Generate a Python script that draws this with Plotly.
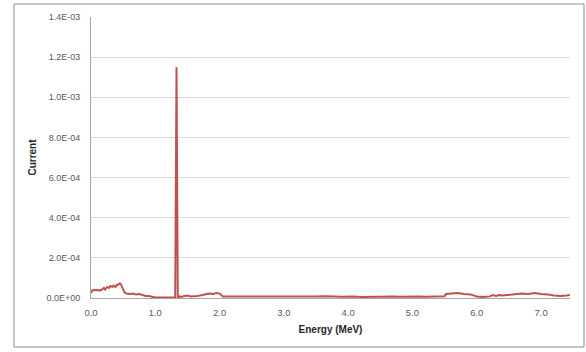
import plotly.graph_objects as go

energy = [0.00, 0.02, 0.05, 0.10, 0.15, 0.18, 0.20, 0.22, 0.25, 0.28, 0.30, 0.33, 0.35, 0.38,
          0.40, 0.43, 0.45, 0.47, 0.50, 0.52, 0.55, 0.60, 0.65, 0.70, 0.75, 0.80, 0.85, 0.90,
          0.95, 1.00, 1.05, 1.10, 1.20, 1.31, 1.33, 1.35, 1.38, 1.40, 1.45, 1.50, 1.55, 1.60,
          1.65, 1.70, 1.75, 1.80, 1.85, 1.90, 1.95, 2.00, 2.05, 2.10, 2.20, 2.30, 2.40, 2.50,
          2.60, 2.70, 2.80, 2.90, 3.00, 3.10, 3.20, 3.30, 3.40, 3.50, 3.60, 3.70, 3.80, 3.90,
          4.00, 4.10, 4.20, 4.30, 4.40, 4.50, 4.60, 4.70, 4.80, 4.90, 5.00, 5.10, 5.20, 5.30,
          5.40, 5.50, 5.52, 5.60, 5.70, 5.80, 5.90, 6.00, 6.10, 6.20, 6.25, 6.30, 6.35, 6.40,
          6.50, 6.60, 6.70, 6.80, 6.90, 7.00, 7.10, 7.20, 7.30, 7.40, 7.45]
current_e5 = [2.5, 3.8, 4.0, 4.0, 3.8, 4.5, 5.0, 4.2, 5.5, 5.0, 6.0, 5.5, 6.2, 5.5,
              6.5, 6.8, 7.3, 6.5, 4.5, 2.8, 2.2, 2.0, 2.2, 1.8, 2.0, 1.5, 1.0, 1.0,
              0.5, 0.3, 0.2, 0.2, 0.2, 0.3, 115.0, 0.3, 0.8, 0.5, 1.0, 1.2, 0.8, 0.8,
              1.0, 1.2, 1.8, 2.0, 2.2, 2.0, 2.5, 2.2, 0.8, 0.8, 0.6, 0.8, 0.6, 0.5,
              0.7, 0.5, 0.6, 0.8, 0.6, 0.7, 0.5, 0.6, 0.8, 0.7, 0.9, 1.0, 0.8, 0.6,
              0.8, 0.7, 0.5, 0.6, 0.7, 0.5, 0.6, 0.8, 0.6, 0.7, 0.9, 0.7, 0.6, 0.8,
              1.0, 0.9, 2.0, 2.2, 2.5, 2.0, 1.8, 0.8, 0.5, 0.8, 1.5, 1.0, 1.5, 1.2,
              1.5, 1.8, 2.2, 2.0, 2.5, 2.0, 1.8, 1.2, 1.0, 1.3, 1.5]
current = [v * 1e-5 for v in current_e5]

y_ticks = [0, 2e-4, 4e-4, 6e-4, 8e-4, 1.0e-3, 1.2e-3, 1.4e-3]
y_labels = [f"{v:.1E}" for v in y_ticks]
x_ticks = [0, 1, 2, 3, 4, 5, 6, 7]
x_labels = [f"{v:.1f}" for v in x_ticks]

fig = go.Figure()
fig.add_trace(go.Scatter(x=energy, y=current, mode="lines",
                         line=dict(color="#C0504D", width=2), showlegend=False))

font = "Liberation Sans, Arial, sans-serif"
fig.update_layout(
    width=586, height=352,
    margin=dict(l=91, r=16, t=17, b=54),
    paper_bgcolor="white", plot_bgcolor="white",
    font=dict(family=font, size=9, color="#595959"),
    xaxis=dict(range=[0, 7.45], tickvals=x_ticks, ticktext=x_labels,
               showgrid=False, zeroline=False, showline=True, linecolor="#A6A6A6",
               linewidth=1, ticks="", ticklabelstandoff=6,
               tickfont=dict(size=9.5, color="#595959"),
               title=dict(text="<b>Energy (MeV)</b>", font=dict(size=10, color="#262626"),
                          standoff=8)),
    yaxis=dict(range=[0, 1.4e-3], tickvals=y_ticks, ticktext=y_labels,
               showgrid=True, gridcolor="#D9D9D9", gridwidth=1, zeroline=False,
               showline=True, linecolor="#A6A6A6", linewidth=1, ticks="",
               ticklabelstandoff=8,
               tickfont=dict(size=9, color="#595959"),
               title=dict(text="<b>Current</b>", font=dict(size=10, color="#262626"),
                          standoff=7)),
    shapes=[dict(type="rect", xref="paper", yref="paper",
                 x0=(14 - 91) / 479, x1=(584 - 91) / 479,
                 y0=(298 - 347) / 281, y1=(298 - 4) / 281,
                 line=dict(color="#8C8C8C", width=1), fillcolor="rgba(0,0,0,0)",
                 layer="below")],
)

fig.write_html("out.html")
